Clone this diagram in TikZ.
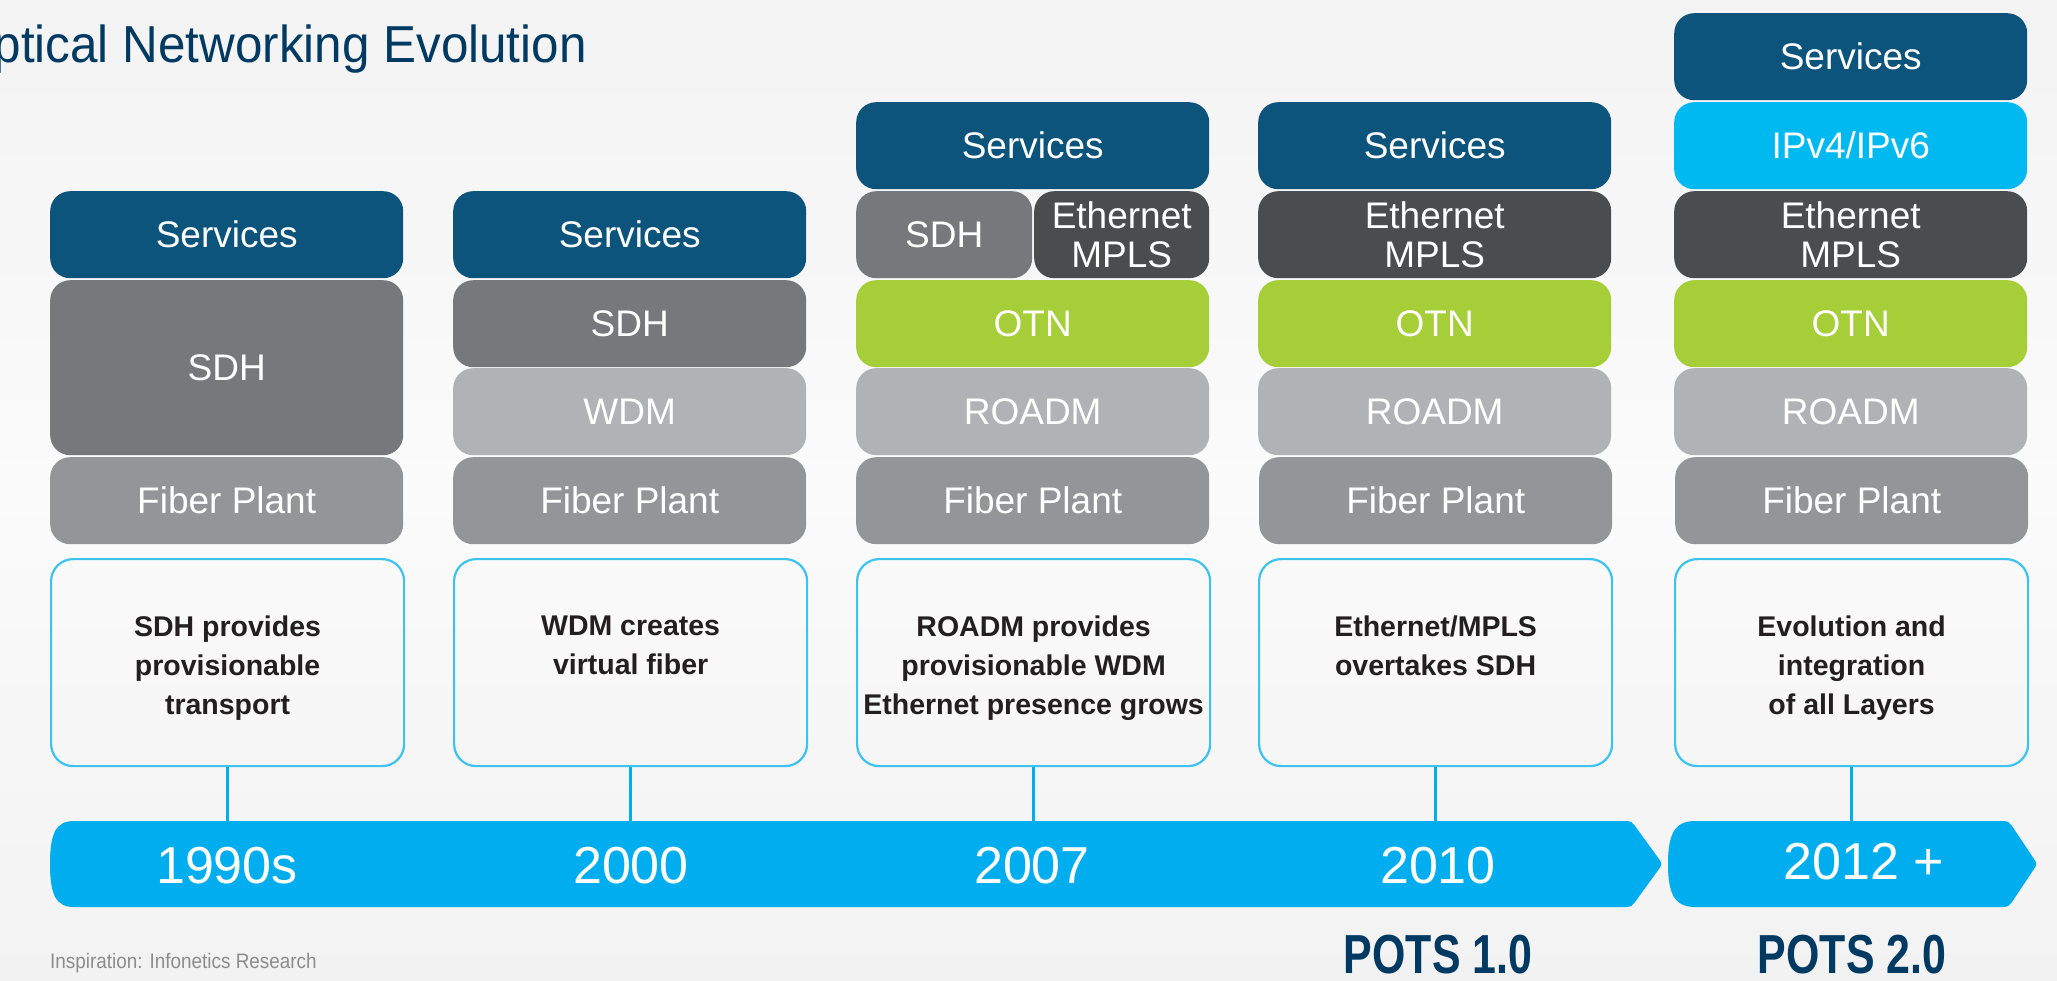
\documentclass[tikz,border=0pt]{standalone}
\usepackage{fontspec}
\setmainfont{Liberation Sans}
\usepackage{graphicx}
\definecolor{svc}{HTML}{0C547C}
\definecolor{sdh}{HTML}{77787B}
\definecolor{lgray}{HTML}{B1B2B5}
\definecolor{fib}{HTML}{939598}
\definecolor{otn}{HTML}{A6CE39}
\definecolor{eth}{HTML}{4B4C4E}
\definecolor{ipc}{HTML}{00B9F1}
\definecolor{descb}{HTML}{3CC3F0}
\definecolor{barc}{HTML}{00AEEF}
\definecolor{navy}{HTML}{003A63}
\definecolor{dtext}{HTML}{231F20}
\definecolor{insp}{HTML}{8C8C8C}
\definecolor{bgtop}{HTML}{F3F3F3}
\definecolor{bgmid}{HTML}{FBFBFB}
\definecolor{bgbot}{HTML}{F2F2F2}
\tikzset{
  layer/.style={rectangle, rounded corners=20pt, minimum width=353pt, minimum height=87pt,
    inner sep=0pt, anchor=north west, text=white, align=center,
    font=\fontsize{37pt}{39pt}\selectfont},
  descbox/.style={rectangle, rounded corners=22pt, minimum width=353pt, minimum height=207pt,
    inner sep=0pt, anchor=north west, draw=descb, line width=2.2pt},
  desctext/.style={anchor=north, inner sep=0pt, align=center, text=dtext,
    font=\fontsize{28.5pt}{39pt}\selectfont\bfseries},
  conn/.style={draw=barc, line width=2.6pt},
  yearlbl/.style={text=white, inner sep=0pt, font=\fontsize{52pt}{52pt}\selectfont},
  potslbl/.style={text=navy, inner sep=0pt, font=\fontsize{55pt}{55pt}\selectfont\bfseries},
}
\begin{document}
\begin{tikzpicture}[x=1pt,y=-1pt]
\useasboundingbox (0,0) rectangle (2057,981);
\shade[top color=bgtop, bottom color=bgbot, middle color=bgmid] (0,0) rectangle (2057,981);

% title
\begin{scope}
\clip (0,0) rectangle (2057,981);
\node[anchor=base west, inner sep=0pt, text=navy, font=\fontsize{52pt}{52pt}\selectfont] (title) at (-45,63)
  {\scalebox{0.95}[1]{Optical Networking Evolution}};
\end{scope}

% column 1
\node[layer, fill=svc] (s1) at (50,191) {Services};
\node[layer, fill=sdh, minimum height=175pt] (x1) at (50,280) {SDH};
\node[layer, fill=fib] (f1) at (50,457) {Fiber Plant};

% column 2
\node[layer, fill=svc] (s2) at (453,191) {Services};
\node[layer, fill=sdh] (x2) at (453,280) {SDH};
\node[layer, fill=lgray] (w2) at (453,368) {WDM};
\node[layer, fill=fib] (f2) at (453,457) {Fiber Plant};

% column 3
\node[layer, fill=svc] (s3) at (856,102) {Services};
\node[layer, fill=sdh, minimum width=176pt] (x3) at (856,191) {SDH};
\node[layer, fill=eth, minimum width=175pt] (e3) at (1034,191) {Ethernet\\MPLS};
\node[layer, fill=otn] (o3) at (856,280) {OTN};
\node[layer, fill=lgray] (r3) at (856,368) {ROADM};
\node[layer, fill=fib] (f3) at (856,457) {Fiber Plant};

% column 4
\node[layer, fill=svc] (s4) at (1258,102) {Services};
\node[layer, fill=eth] (e4) at (1258,191) {Ethernet\\MPLS};
\node[layer, fill=otn] (o4) at (1258,280) {OTN};
\node[layer, fill=lgray] (r4) at (1258,368) {ROADM};
\node[layer, fill=fib] (f4) at (1259,457) {Fiber Plant};

% column 5
\node[layer, fill=svc] (s5) at (1674,13) {Services};
\node[layer, fill=ipc] (i5) at (1674,102) {IPv4/IPv6};
\node[layer, fill=eth] (e5) at (1674,191) {Ethernet\\MPLS};
\node[layer, fill=otn] (o5) at (1674,280) {OTN};
\node[layer, fill=lgray] (r5) at (1674,368) {ROADM};
\node[layer, fill=fib] (f5) at (1675,457) {Fiber Plant};

% description boxes
\node[descbox] (d1) at (50,558) {};
\node[descbox] (d2) at (453,558) {};
\node[descbox] (d3) at (856,558) {};
\node[descbox] (d4) at (1258,558) {};
\node[descbox] (d5) at (1674,558) {};
\node[desctext] (t1) at ([yshift=-58pt]d1.north) {SDH provides\\provisionable\\transport};
\node[desctext] (t2) at ([yshift=-58pt]d2.north) {WDM creates\\virtual fiber};
\node[desctext] (t3) at ([yshift=-58pt]d3.north) {ROADM provides\\provisionable WDM\\Ethernet presence grows};
\node[desctext] (t4) at ([yshift=-58pt]d4.north) {Ethernet/MPLS\\overtakes SDH};
\node[desctext] (t5) at ([yshift=-58pt]d5.north) {Evolution and\\integration\\of all Layers};

% timeline bars
\fill[barc] (74,821) -- (1626,821) .. controls (1631,821) and (1633,823) .. (1635,826)
  -- (1659,859) .. controls (1662,863) and (1662,865) .. (1659,869)
  -- (1635,902) .. controls (1633,905) and (1631,907) .. (1626,907)
  -- (74,907) .. controls (56,907) and (50,895) .. (50,864)
  .. controls (50,833) and (56,821) .. (74,821) -- cycle;
\fill[barc] (1695,821) -- (2003,821) .. controls (2008,821) and (2010,823) .. (2012,826)
  -- (2034,859) .. controls (2037,863) and (2037,865) .. (2034,869)
  -- (2012,902) .. controls (2010,905) and (2008,907) .. (2003,907)
  -- (1695,907) .. controls (1674,907) and (1668,893) .. (1668,864)
  .. controls (1668,835) and (1674,821) .. (1695,821) -- cycle;
\coordinate (bartop) at (0,822);

% connectors
\draw[conn] (d1.south) -- (d1.south |- bartop);
\draw[conn] (d2.south) -- (d2.south |- bartop);
\draw[conn] (d3.south) -- (d3.south |- bartop);
\draw[conn] (d4.south) -- (d4.south |- bartop);
\draw[conn] (d5.south) -- (d5.south |- bartop);

% years
\node[yearlbl] (y1) at (227,866) {1990s};
\node[yearlbl] (y2) at (631,866) {2000};
\node[yearlbl] (y3) at (1032,866) {2007};
\node[yearlbl] (y4) at (1438,866) {2010};
\node[yearlbl] (y5) at (1864,862) {2012 +};

% POTS
\node[potslbl] (p1) at (1438,955) {\scalebox{0.78}[1]{POTS 1.0}};
\node[potslbl] (p2) at (1852,955) {\scalebox{0.78}[1]{POTS 2.0}};

% source
\node[anchor=base west, inner sep=0pt, text=insp, font=\fontsize{21pt}{21pt}\selectfont] (src) at (50,968)
  {\scalebox{0.9}[1]{Inspiration: Infonetics Research}};
\end{tikzpicture}
\end{document}
